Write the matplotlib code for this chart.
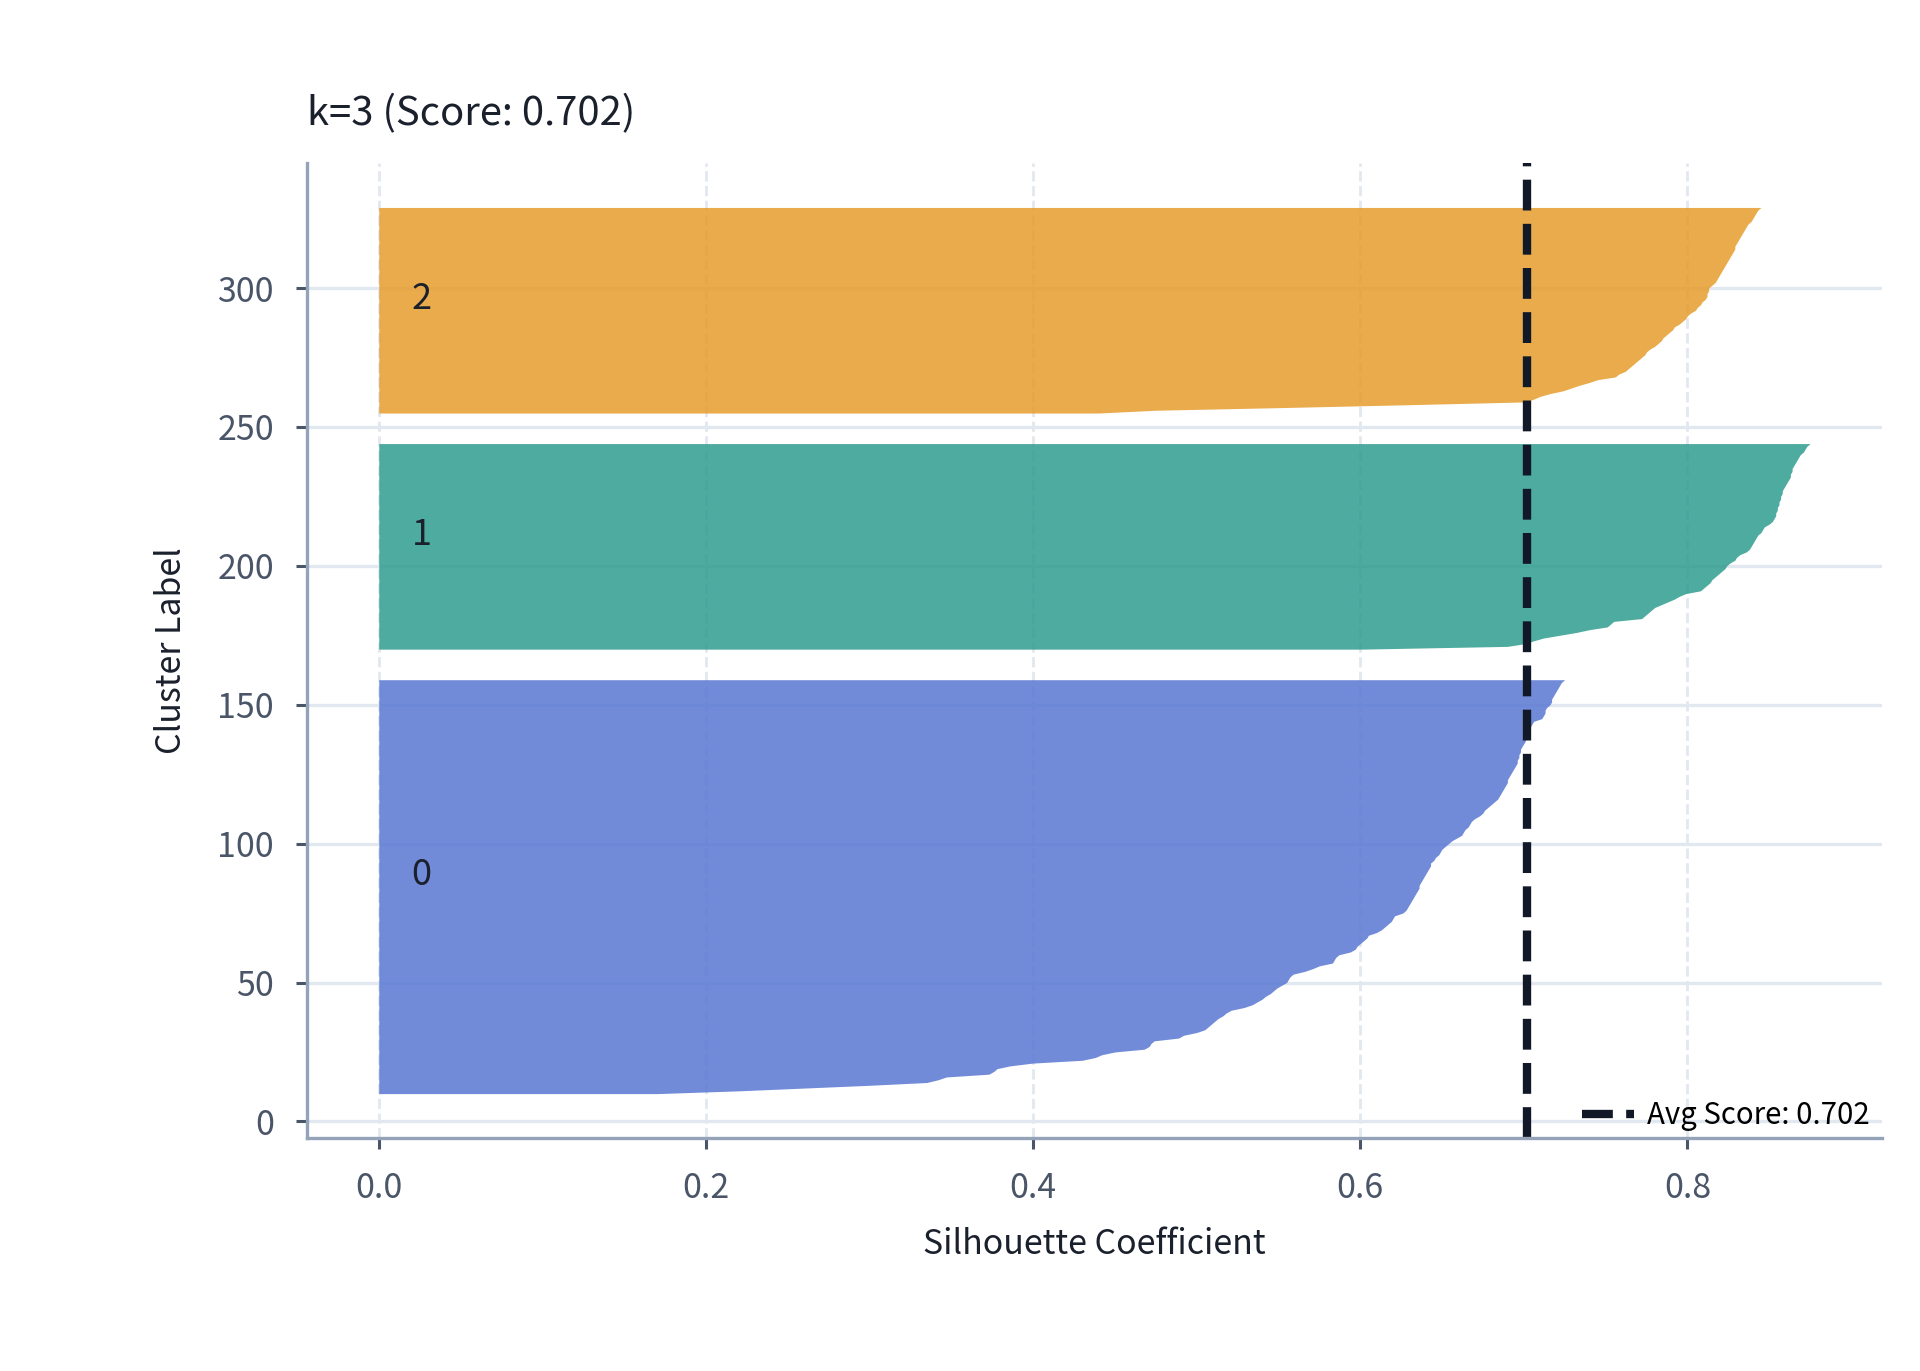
import matplotlib
matplotlib.use("Agg")
import numpy as np
import matplotlib.pyplot as plt

plt.rcParams['font.family'] = ['Noto Sans CJK KR', 'DejaVu Sans']

# silhouette values per cluster, sorted ascending
cluster_0 = [
    0.170, 0.220, 0.260, 0.300, 0.335, 0.342, 0.347, 0.373, 0.376, 0.378,
    0.386, 0.400, 0.430, 0.438, 0.442, 0.450, 0.468, 0.471, 0.472, 0.474,
    0.489, 0.492, 0.500, 0.505, 0.507, 0.509, 0.511, 0.513, 0.516, 0.518,
    0.521, 0.529, 0.534, 0.537, 0.540, 0.542, 0.545, 0.547, 0.549, 0.552,
    0.555, 0.556, 0.557, 0.559, 0.566, 0.571, 0.575, 0.583, 0.584, 0.585,
    0.587, 0.594, 0.597, 0.598, 0.600, 0.602, 0.604, 0.605, 0.610, 0.613,
    0.615, 0.617, 0.619, 0.620, 0.621, 0.626, 0.628, 0.629, 0.630, 0.631,
    0.632, 0.633, 0.634, 0.635, 0.636, 0.636, 0.637, 0.638, 0.639, 0.640,
    0.641, 0.642, 0.643, 0.643, 0.645, 0.646, 0.648, 0.649, 0.650, 0.652,
    0.654, 0.656, 0.659, 0.662, 0.663, 0.664, 0.666, 0.667, 0.668, 0.670,
    0.673, 0.675, 0.676, 0.678, 0.680, 0.682, 0.684, 0.685, 0.686, 0.687,
    0.688, 0.689, 0.690, 0.690, 0.691, 0.692, 0.693, 0.694, 0.695, 0.696,
    0.696, 0.697, 0.697, 0.698, 0.698, 0.699, 0.700, 0.701, 0.701, 0.702,
    0.703, 0.704, 0.704, 0.705, 0.706, 0.711, 0.712, 0.713, 0.713, 0.714,
    0.716, 0.717, 0.717, 0.718, 0.719, 0.720, 0.721, 0.722, 0.723, 0.725,
]
cluster_1 = [
    0.600, 0.690, 0.701, 0.706, 0.712, 0.722, 0.732, 0.740, 0.751, 0.753,
    0.755, 0.772, 0.774, 0.776, 0.778, 0.780, 0.784, 0.788, 0.792, 0.795,
    0.799, 0.808, 0.810, 0.812, 0.814, 0.815, 0.817, 0.819, 0.821, 0.823,
    0.824, 0.826, 0.829, 0.830, 0.832, 0.836, 0.838, 0.839, 0.840, 0.841,
    0.842, 0.843, 0.845, 0.846, 0.847, 0.850, 0.852, 0.853, 0.854, 0.854,
    0.855, 0.855, 0.856, 0.856, 0.857, 0.857, 0.858, 0.858, 0.859, 0.860,
    0.861, 0.862, 0.863, 0.863, 0.864, 0.864, 0.865, 0.866, 0.867, 0.868,
    0.869, 0.871, 0.872, 0.873, 0.875,
]
cluster_2 = [
    0.440, 0.475, 0.555, 0.630, 0.701, 0.706, 0.710, 0.716, 0.724, 0.729,
    0.734, 0.740, 0.745, 0.756, 0.758, 0.762, 0.764, 0.766, 0.768, 0.770,
    0.772, 0.774, 0.775, 0.777, 0.780, 0.782, 0.784, 0.785, 0.787, 0.789,
    0.791, 0.792, 0.795, 0.797, 0.799, 0.800, 0.802, 0.805, 0.806, 0.808,
    0.809, 0.811, 0.812, 0.812, 0.813, 0.813, 0.815, 0.817, 0.818, 0.819,
    0.820, 0.821, 0.822, 0.823, 0.824, 0.825, 0.826, 0.827, 0.828, 0.829,
    0.829, 0.830, 0.831, 0.832, 0.833, 0.834, 0.835, 0.836, 0.837, 0.839,
    0.840, 0.841, 0.842, 0.843, 0.845,
]
clusters = [cluster_0, cluster_1, cluster_2]
cluster_names = ['0', '1', '2']
colors = ['#5877D2', '#2F9C8E', '#E69C2C']
avg_score = 0.702
k = 3

fig, ax = plt.subplots(figsize=(9.6, 6.855), dpi=200)
fig.subplots_adjust(left=0.16, right=0.98, bottom=0.17, top=0.881)

y_lower = 10
for vals, name, col in zip(clusters, cluster_names, colors):
    vals = np.sort(np.array(vals))
    size = len(vals)
    y_upper = y_lower + size
    ax.fill_betweenx(np.arange(y_lower, y_upper), 0, vals,
                     facecolor=col, edgecolor=col, alpha=0.85, lw=0)
    ax.text(0.02, y_lower + 0.5 * size, name, fontsize=13, color='#1a202c')
    y_lower = y_upper + 10

ax.axvline(avg_score, color='#111827', linestyle='--', linewidth=3,
           label=f'Avg Score: {avg_score:.3f}')

ax.set_title(f'k={k} (Score: {avg_score:.3f})', loc='left', fontsize=14.4,
             color='#1a202c', pad=13.5)
ax.set_xlabel('Silhouette Coefficient', fontsize=12.2, color='#1a202c', labelpad=7.5)
ax.set_ylabel('Cluster Label', fontsize=12.2, color='#1a202c', labelpad=10)

ax.set_axisbelow(True)
ax.yaxis.grid(True, color='#e2e8f0', linewidth=1.2)
ax.xaxis.grid(True, color='#e2e8f0', linewidth=1.0, linestyle='--')
for side in ['top', 'right']:
    ax.spines[side].set_visible(False)
for side in ['left', 'bottom']:
    ax.spines[side].set_color('#94a3b8')
    ax.spines[side].set_linewidth(1.2)
ax.tick_params(axis='both', labelsize=12.2, colors='#4a5568', length=4, width=1.1, pad=8)

ax.legend(loc='lower right', bbox_to_anchor=(1.0, -0.005), frameon=False,
          fontsize=10.6, borderaxespad=0, handlelength=1.75, handletextpad=0.45)

fig.savefig('out.png', dpi=200)
